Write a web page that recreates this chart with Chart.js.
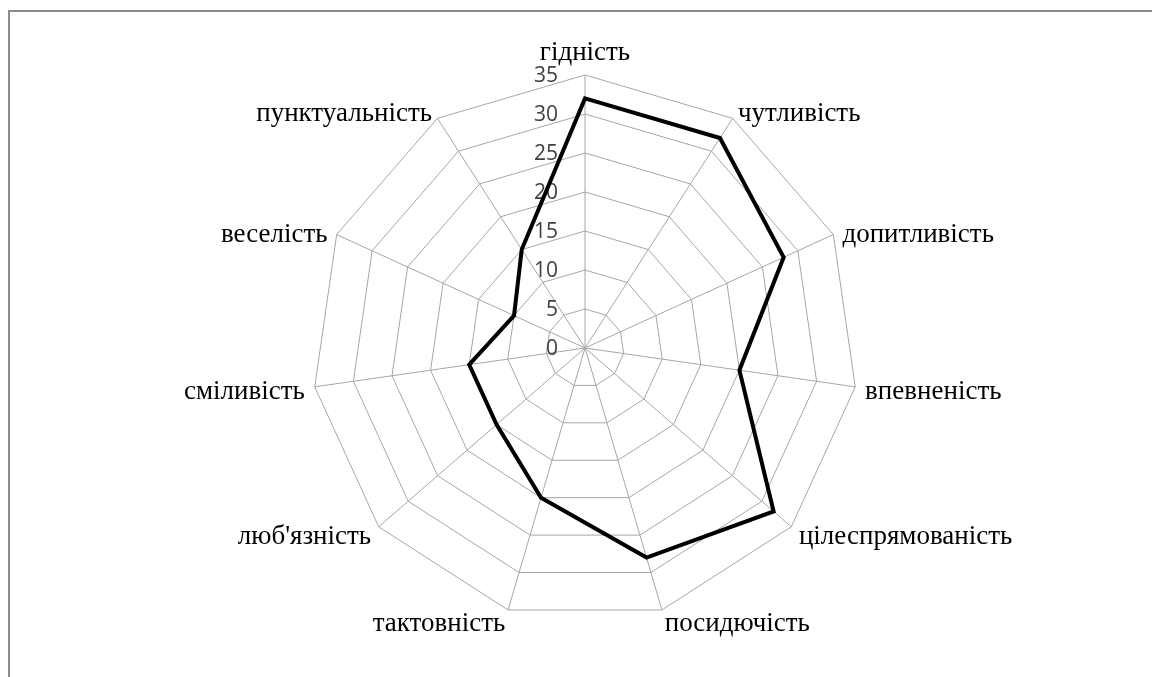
<!DOCTYPE html>
<html>
<head>
<meta charset="utf-8">
<script src="https://cdn.jsdelivr.net/npm/chart.js@4.4.1/dist/chart.umd.min.js"></script>
<style>
    body { margin: 0; background: #fff; overflow: hidden; }
    .frame {
        position: absolute; left: 8px; top: 10px;
        width: 1200px; height: 720px;
        border: 2px solid #8c8c8c;
    }
    .chart_box { position: absolute; left: 0; top: 0; width: 1152px; height: 677px; }
</style>
</head>
<body>
<div class="frame"></div>
<div class="chart_box"><canvas id="radar-chart"></canvas></div>
<script>
// Категорії (осі діаграми)
const categories = ['гідність', 'чутливість', 'допитливість', 'впевненість', 'цілеспрямованість',
    'посидючість', 'тактовність', 'люб\'язність', 'сміливість', 'веселість', 'пунктуальність'];

// Значення ряду
const values = [32, 32, 28, 20, 32, 28, 20, 15, 15, 10, 15];

// Підписи шкали
const tickValues = [0, 5, 10, 15, 20, 25, 30, 35];

// Підписи шкали малюємо зліва від вертикальної осі, як в оригіналі
const leftTicks = {
    id: 'leftTicks',
    beforeDatasetsDraw(chart) {
        const scale = chart.scales.r;
        const c = chart.ctx;
        c.save();
        c.font = '21px "Open Sans"';
        c.fillStyle = '#404040';
        c.textAlign = 'right';
        c.textBaseline = 'middle';
        tickValues.forEach(v => {
            const p = scale.getPointPositionForValue(0, v);
            c.fillText(String(v), p.x - 27, p.y + 1);
        });
        c.restore();
    }
};

// Назви осей: біля вершин, вирівняні по горизонталі як в Excel
const axisLabels = {
    id: 'axisLabels',
    afterDraw(chart) {
        const scale = chart.scales.r;
        const c = chart.ctx;
        c.save();
        c.font = '27px "Liberation Serif"';
        c.fillStyle = '#000000';
        c.textBaseline = 'middle';
        categories.forEach((name, i) => {
            const p = scale.getPointPosition(i, scale.drawingArea + 10);
            if (Math.abs(p.x - scale.xCenter) < 1) {
                c.textAlign = 'center';
                c.fillText(name, p.x, p.y - 12);
            } else {
                c.textAlign = p.x > scale.xCenter ? 'left' : 'right';
                c.fillText(name, p.x, p.y + 4);
            }
        });
        c.restore();
    }
};

const ctx = document.getElementById('radar-chart').getContext('2d');
let radarChart = new Chart(ctx, {
    type: 'radar',
    data: {
        labels: categories,
        datasets: [{
            data: values,
            borderColor: '#000000',
            borderWidth: 4,
            fill: false,
            pointRadius: 0,
            tension: 0
        }]
    },
    options: {
        responsive: true,
        maintainAspectRatio: false,
        animation: false,
        layout: { padding: { top: 75, bottom: 56, left: 18, right: 0 } },
        plugins: {
            legend: { display: false },
            tooltip: { enabled: false }
        },
        scales: {
            r: {
                min: 0,
                max: 35,
                ticks: { stepSize: 5, display: false },
                grid: { color: '#a6a6a6', lineWidth: 1 },
                angleLines: { color: '#a6a6a6', lineWidth: 1 },
                pointLabels: { display: false }
            }
        }
    },
    plugins: [leftTicks, axisLabels]
});
</script>
</body>
</html>
